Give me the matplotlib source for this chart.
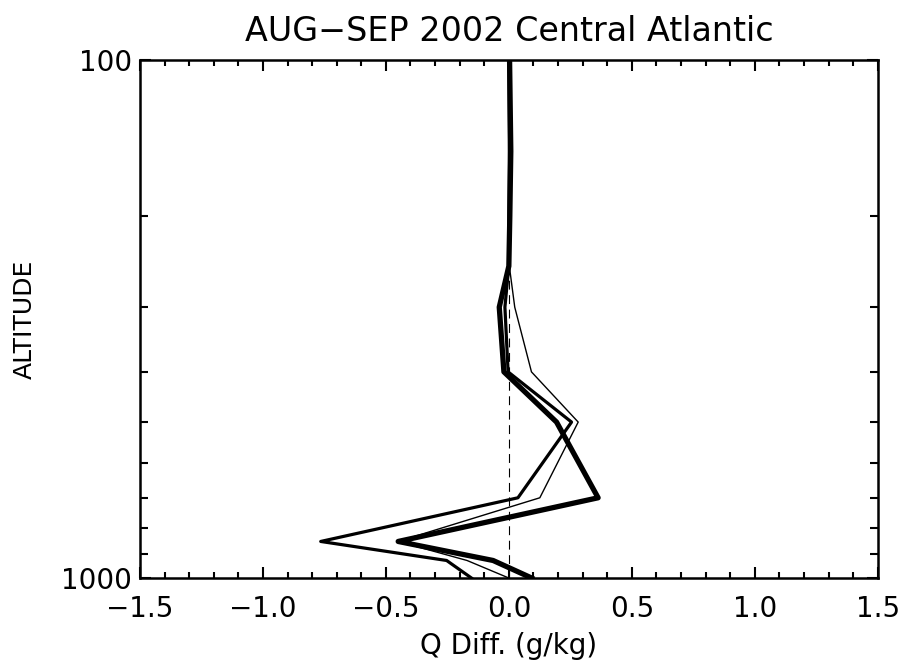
import matplotlib
matplotlib.use('Agg')
import matplotlib.pyplot as plt
import numpy as np
from matplotlib.ticker import FixedLocator, NullFormatter, MultipleLocator

# pressure levels (hPa) and humidity differences (g/kg)
levels = [1000, 925, 850, 700, 500, 400, 300, 250, 200, 150, 100]
q_thick = [0.093, -0.064, -0.45, 0.363, 0.194, -0.02, -0.039, 0.0, 0.004, 0.008, 0.003]
q_medium = [-0.152, -0.253, -0.765, 0.037, 0.255, -0.003, -0.016, 0.0, 0.0, 0.002, 0.0]
q_thin = [0.0, -0.17, -0.45, 0.126, 0.282, 0.092, 0.024, 0.002, 0.0, 0.002, 0.0]
x_ticks = [-1.5, -1.0, -0.5, 0.0, 0.5, 1.0, 1.5]

plt.rcParams['font.family'] = 'DejaVu Sans'
fig = plt.figure(figsize=(9.03, 6.68), dpi=100)
ax = fig.add_axes([0.155, 0.1347, 0.817, 0.7755])

ax.plot([0, 0], [1000, 100], color='black', lw=0.8, ls=(0, (8, 5)))
ax.plot(q_thin, levels, color='black', lw=1.0)
ax.plot(q_medium, levels, color='black', lw=2.3)
ax.plot(q_thick, levels, color='black', lw=3.8)

ax.set_yscale('log')
ax.set_ylim(1000, 100)
ax.set_xlim(-1.5, 1.5)

ax.yaxis.set_major_locator(FixedLocator([100, 1000]))
ax.yaxis.set_minor_locator(FixedLocator([200, 300, 400, 500, 600, 700, 800, 900]))
ax.yaxis.set_minor_formatter(NullFormatter())
ax.set_yticklabels(['100', '1000'])
ax.set_xticks(x_ticks)
ax.xaxis.set_minor_locator(MultipleLocator(0.1))
ax.set_xticklabels([('%.1f' % v).replace('-', '\u2212') for v in x_ticks])

ax.tick_params(which='both', direction='in', top=True, right=True, width=1.5, labelsize=20)
ax.tick_params(axis='x', pad=12)
ax.tick_params(axis='y', pad=6)
ax.tick_params(which='major', length=8)
ax.tick_params(which='minor', length=4.5)
ax.tick_params(axis='y', which='minor', length=6)
for s in ax.spines.values():
    s.set_linewidth(1.8)

ax.set_title('AUG\u2212SEP 2002 Central Atlantic', fontsize=24, pad=14)
ax.set_xlabel('Q Diff. (g/kg)', fontsize=20, labelpad=7)
ax.set_ylabel('ALTITUDE', fontsize=18)
ax.yaxis.set_label_coords(-0.14, 0.5)

plt.savefig('out.png', dpi=100)
